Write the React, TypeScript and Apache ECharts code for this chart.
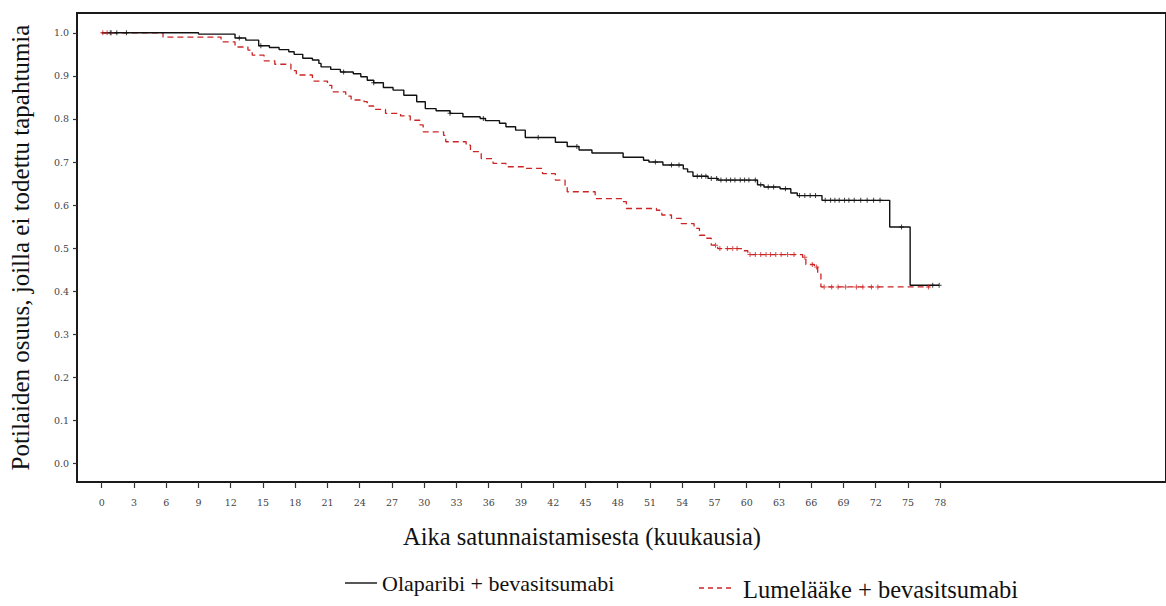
import { useEffect, useRef } from "react";
import * as echarts from "echarts";

// Kaplan–Meier estimates: event times (months) and survival after each step
const olapTimes = [0, 9.0, 12.4, 13.4, 14.6, 15.6, 16.5, 17.4, 17.9, 18.7, 19.6, 20.2, 20.4, 21.3, 22.2, 23.4, 24.1, 24.7, 25.3, 26.2, 27.1, 28.1, 29.3, 30.1, 31.1, 32.4, 33.6, 35.2, 35.7, 37.0, 37.6, 38.5, 39.4, 42.2, 43.3, 44.4, 45.6, 48.5, 50.4, 50.9, 52.2, 54.1, 54.5, 55.0, 56.4, 57.3, 61.0, 61.6, 63.1, 64.1, 64.7, 67.0, 73.3, 75.2, 77.9];
const olapSurv = [1.0, 0.997, 0.988, 0.983, 0.970, 0.966, 0.961, 0.956, 0.950, 0.941, 0.937, 0.929, 0.921, 0.915, 0.909, 0.905, 0.898, 0.890, 0.884, 0.873, 0.867, 0.855, 0.840, 0.824, 0.819, 0.813, 0.805, 0.801, 0.796, 0.790, 0.782, 0.774, 0.757, 0.746, 0.736, 0.728, 0.721, 0.711, 0.704, 0.700, 0.693, 0.684, 0.677, 0.667, 0.662, 0.658, 0.647, 0.642, 0.638, 0.628, 0.622, 0.611, 0.549, 0.414, 0.414];

const placTimes = [0, 5.7, 11.1, 12.4, 13.6, 14.0, 15.1, 16.1, 17.6, 18.1, 19.6, 21.0, 21.4, 22.7, 23.2, 24.4, 24.7, 25.3, 26.4, 27.8, 28.7, 29.6, 29.9, 31.8, 32.0, 33.9, 34.3, 35.3, 36.4, 37.6, 39.4, 41.0, 42.2, 43.1, 43.3, 45.9, 48.4, 48.8, 51.6, 52.1, 53.0, 53.9, 55.1, 55.6, 56.1, 56.7, 57.3, 59.7, 60.1, 65.2, 65.5, 66.3, 66.6, 66.9, 77.0];
const placSurv = [1.0, 0.990, 0.979, 0.967, 0.960, 0.948, 0.935, 0.927, 0.912, 0.902, 0.888, 0.878, 0.863, 0.853, 0.844, 0.840, 0.830, 0.822, 0.813, 0.807, 0.797, 0.786, 0.770, 0.762, 0.747, 0.739, 0.724, 0.708, 0.697, 0.689, 0.685, 0.673, 0.658, 0.646, 0.631, 0.615, 0.608, 0.592, 0.588, 0.577, 0.569, 0.557, 0.546, 0.530, 0.523, 0.507, 0.499, 0.494, 0.485, 0.479, 0.462, 0.456, 0.441, 0.410, 0.410];

// Censoring times (months)
const olapCensored = [0.8, 1.4, 2.3, 12.8, 14.8, 22.5, 25.3, 32.4, 35.5, 40.6, 44.2, 51.5, 53.0, 53.7, 55.4, 55.8, 56.2, 56.7, 57.2, 57.6, 58.1, 58.5, 58.9, 59.4, 59.8, 60.2, 60.8, 61.3, 62.0, 62.5, 63.6, 64.9, 65.4, 65.9, 66.4, 67.3, 67.8, 68.2, 68.6, 69.1, 69.5, 70.0, 70.6, 71.2, 71.8, 72.4, 74.4, 77.3, 77.9];
const placCensored = [0.1, 0.5, 0.9, 57.1, 57.5, 58.2, 58.7, 59.1, 60.3, 60.8, 61.3, 61.8, 62.2, 62.7, 63.2, 63.8, 64.4, 65.4, 66.1, 66.5, 67.2, 67.9, 68.5, 69.2, 70.2, 70.8, 71.6, 72.2, 76.9];

const xTicks = [0, 3, 6, 9, 12, 15, 18, 21, 24, 27, 30, 33, 36, 39, 42, 45, 48, 51, 54, 57, 60, 63, 66, 69, 72, 75, 78];
const yTicks = [0.0, 0.1, 0.2, 0.3, 0.4, 0.5, 0.6, 0.7, 0.8, 0.9, 1.0];

const olapName = "Olaparibi + bevasitsumabi";
const placName = "Lumelääke + bevasitsumabi";
const xTitle = "Aika satunnaistamisesta (kuukausia)";
const yTitle = "Potilaiden osuus, joilla ei todettu tapahtumia";

const BLACK = "#111111";
const RED = "#cc2424";
const SERIF = "'Liberation Serif', 'Times New Roman', serif";
const TICK_FONT = "'DejaVu Serif', serif";

function survivalAt(times: number[], surv: number[], t: number): number {
  let v = surv[0];
  for (let i = 0; i < times.length; i++) {
    if (times[i] <= t) v = surv[i];
  }
  return v;
}

const plusSymbol = "path://M-0.2,-1H0.2V1H-0.2Z M-1,-0.2H1V0.2H-1Z";

export default function App() {
  const ref = useRef<HTMLDivElement>(null);

  useEffect(() => {
    if (!ref.current) return;
    const chart = echarts.init(ref.current, undefined, { renderer: "svg" });

    const olapLine = olapTimes.map((t, i) => [t, olapSurv[i]]);
    const placLine = placTimes.map((t, i) => [t, placSurv[i]]);
    const olapMarks = olapCensored.map((t) => [t, survivalAt(olapTimes, olapSurv, t)]);
    const placMarks = placCensored.map((t) => [t, survivalAt(placTimes, placSurv, t)]);

    chart.setOption({
      animation: false,
      backgroundColor: "#ffffff",
      grid: {
        show: true,
        left: 71,
        right: -3,
        top: 13,
        bottom: 124,
        borderColor: "#1a1a1a",
        borderWidth: 2,
        backgroundColor: "transparent",
      },
      xAxis: {
        type: "value",
        min: -2.3,
        max: 99,
        axisLine: { show: true, onZero: false, lineStyle: { color: "#1a1a1a", width: 2 } },
        axisTick: { show: true, customValues: xTicks, length: 6, inside: false, lineStyle: { color: "#333333", width: 1.2 } },
        axisLabel: {
          customValues: xTicks,
          margin: 15,
          fontFamily: TICK_FONT,
          fontSize: 9.5,
          color: "#444444",
          formatter: (v: number) => String(Math.round(v)),
        },
        splitLine: { show: false },
      },
      yAxis: {
        type: "value",
        min: -0.043,
        max: 1.046,
        name: yTitle,
        nameLocation: "middle",
        nameGap: 44,
        nameTextStyle: { fontFamily: SERIF, fontSize: 25, color: "#111111" },
        axisLine: { show: true, onZero: false, lineStyle: { color: "#1a1a1a", width: 2 } },
        axisTick: { show: true, customValues: yTicks, length: 4, lineStyle: { color: "#333333", width: 1.2 } },
        axisLabel: {
          customValues: yTicks,
          margin: 8,
          fontFamily: TICK_FONT,
          fontSize: 9.5,
          color: "#444444",
          formatter: (v: number) => v.toFixed(1),
        },
        splitLine: { show: false },
      },
      series: [
        {
          name: placName,
          type: "line",
          step: "end",
          data: placLine,
          symbol: "none",
          lineStyle: { color: RED, width: 1.3, type: [6, 4] },
          z: 2,
        },
        {
          name: olapName,
          type: "line",
          step: "end",
          data: olapLine,
          symbol: "none",
          lineStyle: { color: BLACK, width: 1.4 },
          z: 3,
        },
        {
          name: placName + " (sensuroitu)",
          type: "scatter",
          data: placMarks,
          symbol: plusSymbol,
          symbolSize: 5,
          itemStyle: { color: RED },
          z: 4,
        },
        {
          name: olapName + " (sensuroitu)",
          type: "scatter",
          data: olapMarks,
          symbol: plusSymbol,
          symbolSize: 5,
          itemStyle: { color: BLACK },
          z: 5,
        },
      ],
      graphic: [
        {
          type: "text",
          x: 582,
          y: 536,
          style: { text: xTitle, font: `24.5px ${SERIF}`, fill: "#111111", align: "center", verticalAlign: "middle" },
        },
        {
          type: "line",
          shape: { x1: 345, y1: 583, x2: 377, y2: 583 },
          style: { stroke: BLACK, lineWidth: 1.4 },
        },
        {
          type: "text",
          x: 382,
          y: 583,
          style: { text: olapName, font: `22px ${SERIF}`, fill: "#111111", verticalAlign: "middle", align: "left" },
        },
        {
          type: "line",
          shape: { x1: 699, y1: 588, x2: 733, y2: 588 },
          style: { stroke: RED, lineWidth: 1.3, lineDash: [5, 4] },
        },
        {
          type: "text",
          x: 743,
          y: 589,
          style: { text: placName, font: `24.5px ${SERIF}`, fill: "#111111", verticalAlign: "middle", align: "left" },
        },
      ],
    });

    return () => chart.dispose();
  }, []);

  return (
    <div
      ref={ref}
      style={{ position: "fixed", left: 0, top: 0, width: 1166, height: 606, background: "#ffffff" }}
    />
  );
}
